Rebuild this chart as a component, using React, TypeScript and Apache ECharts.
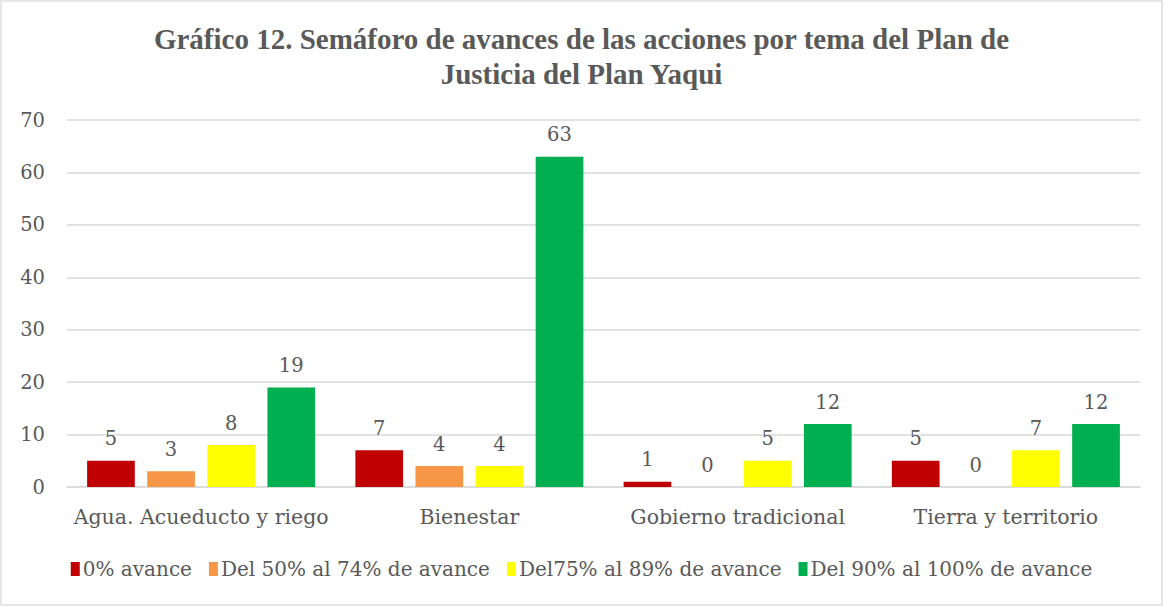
import React, { useEffect, useRef } from "react";
import * as echarts from "echarts";

const categories = ["Agua. Acueducto y riego", "Bienestar", "Gobierno tradicional", "Tierra y territorio"];
const seriesNames = ["0% avance", "Del 50% al 74% de avance", "Del75% al 89% de avance", "Del 90% al 100% de avance"];
const avance0 = [5, 7, 1, 5];
const avance50 = [3, 4, 0, 0];
const avance75 = [8, 4, 5, 7];
const avance90 = [19, 63, 12, 12];
const colors = ["#C00000", "#F79646", "#FFFF00", "#00B050"];
const yTicks = { min: 0, max: 70, interval: 10 };

export default function App() {
  const ref = useRef<HTMLDivElement>(null);
  useEffect(() => {
    document.body.style.margin = "0";
    const chart = echarts.init(ref.current!, undefined, { renderer: "svg" });
    const font = "'DejaVu Serif', 'Liberation Serif', serif";
    const data = [avance0, avance50, avance75, avance90];
    chart.setOption({
      animation: false,
      backgroundColor: "#ffffff",
      title: {
        text: "Gráfico 12. Semáforo de avances de las acciones por tema del Plan de\nJusticia del Plan Yaqui",
        left: "center",
        top: 14,
        textStyle: {
          fontFamily: "'Liberation Serif', serif",
          fontWeight: "bold",
          fontSize: 29,
          color: "#595959",
          lineHeight: 35,
        },
      },
      legend: {
        bottom: 20,
        left: "center",
        itemWidth: 9,
        itemHeight: 14,
        itemGap: 17,
        icon: "rect",
        textStyle: { fontFamily: font, fontSize: 20, color: "#595959", padding: [0, 0, 0, -2] },
        data: seriesNames,
      },
      grid: { left: 65, right: 21, top: 118, bottom: 117, containLabel: false },
      xAxis: {
        type: "category",
        data: categories,
        axisLine: { lineStyle: { color: "#D9D9D9", width: 1.5 } },
        axisTick: { show: false },
        axisLabel: { interval: 0, fontFamily: font, fontSize: 20.5, color: "#595959", margin: 19 },
      },
      yAxis: {
        type: "value",
        ...yTicks,
        axisLine: { show: false },
        axisTick: { show: false },
        splitLine: { lineStyle: { color: "#D9D9D9", width: 1.5 } },
        axisLabel: { fontFamily: font, fontSize: 19.5, color: "#595959", margin: 22 },
      },
      series: seriesNames.map((name, i) => ({
        name,
        type: "bar",
        data: data[i],
        barGap: "26%",
        barCategoryGap: "15%",
        itemStyle: { color: colors[i] },
        label: {
          show: true,
          position: "top",
          distance: 12,
          fontFamily: font,
          fontSize: 19.5,
          color: "#595959",
        },
      })),
    });
    return () => chart.dispose();
  }, []);
  return (
    <div style={{ position: "absolute", left: 0, top: 0, width: 1163, height: 606, boxSizing: "border-box", border: "2px solid #E6E6E6", background: "#fff" }}>
      <div ref={ref} style={{ width: 1159, height: 602 }} />
    </div>
  );
}
